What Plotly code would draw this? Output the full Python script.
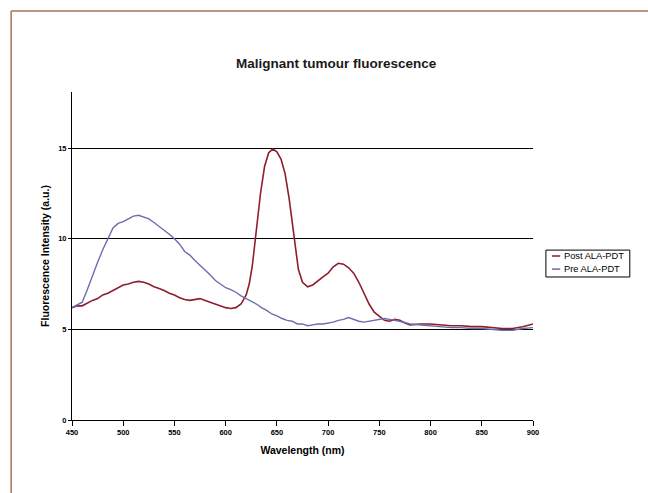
import plotly.graph_objects as go

title = "Malignant tumour fluorescence"
x_title = "Wavelength (nm)"
y_title = "Fluorescence Intensity (a.u.)"
x_ticks = [450, 500, 550, 600, 650, 700, 750, 800, 850, 900]
y_ticks = [0, 5, 10, 15]
series_names = ["Post ALA-PDT", "Pre ALA-PDT"]
series_colors = ["#8E1D2E", "#6B6DAE"]

pre_wl = [450, 455, 460, 465, 470, 475, 480, 485, 490, 495, 500, 505, 510, 515, 520, 525,
          530, 535, 540, 545, 550, 555, 560, 565, 570, 575, 580, 585, 590, 595, 600, 605,
          610, 615, 620, 625, 630, 635, 640, 645, 650, 655, 660, 665, 670, 675, 680, 685,
          690, 695, 700, 705, 710, 715, 720, 725, 730, 735, 740, 745, 750, 755, 760, 765,
          770, 780, 790, 800, 810, 820, 830, 840, 850, 860, 870, 880, 890, 900]
pre_val = [6.2, 6.35, 6.5, 7.2, 8.0, 8.7, 9.4, 10.05, 10.6, 10.85, 10.95, 11.1, 11.25, 11.3, 11.2, 11.1,
           10.9, 10.7, 10.5, 10.25, 10.0, 9.7, 9.3, 9.1, 8.8, 8.55, 8.3, 8.0, 7.7, 7.5, 7.3, 7.2,
           7.05, 6.85, 6.7, 6.55, 6.4, 6.2, 6.05, 5.85, 5.75, 5.6, 5.5, 5.45, 5.3, 5.3, 5.2, 5.25,
           5.3, 5.3, 5.35, 5.4, 5.5, 5.55, 5.65, 5.55, 5.45, 5.4, 5.45, 5.5, 5.55, 5.6, 5.55, 5.5,
           5.45, 5.3, 5.25, 5.2, 5.15, 5.1, 5.1, 5.05, 5.05, 5.0, 4.95, 4.95, 5.05, 5.1]

post_wl = [450, 455, 460, 465, 470, 475, 480, 485, 490, 495, 500, 505, 510, 515, 520, 525,
           530, 535, 540, 545, 550, 555, 560, 565, 570, 575, 580, 585, 590, 595, 600, 605,
           610, 615, 620, 623, 626, 630, 634, 638, 642, 646, 650, 654, 658, 662, 665, 668,
           671, 675, 680, 685, 690, 695, 700, 705, 710, 715, 720, 725, 730, 735, 740, 745,
           750, 755, 760, 765, 770, 775, 780, 790, 800, 810, 820, 830, 840, 850, 860, 870,
           880, 890, 900]
post_val = [6.2, 6.3, 6.3, 6.45, 6.6, 6.7, 6.9, 7.0, 7.15, 7.3, 7.45, 7.5, 7.6, 7.65, 7.6, 7.5,
            7.35, 7.25, 7.15, 7.0, 6.9, 6.75, 6.65, 6.6, 6.65, 6.7, 6.6, 6.5, 6.4, 6.3, 6.2, 6.15,
            6.2, 6.4, 6.9, 7.5, 8.5, 10.5, 12.5, 14.0, 14.75, 14.95, 14.8, 14.4, 13.6, 12.2, 10.8, 9.4,
            8.3, 7.6, 7.35, 7.45, 7.7, 7.9, 8.1, 8.45, 8.65, 8.6, 8.4, 8.1, 7.6, 7.0, 6.4, 5.95,
            5.7, 5.5, 5.45, 5.55, 5.5, 5.35, 5.25, 5.3, 5.3, 5.25, 5.2, 5.2, 5.15, 5.15, 5.1, 5.05,
            5.05, 5.15, 5.3]

FONT = "Liberation Sans, Arial, sans-serif"

fig = go.Figure()
fig.add_trace(go.Scatter(x=post_wl, y=post_val, mode="lines", name=series_names[0],
                         line=dict(color=series_colors[0], width=1.6), showlegend=False))
fig.add_trace(go.Scatter(x=pre_wl, y=pre_val, mode="lines", name=series_names[1],
                         line=dict(color=series_colors[1], width=1.4), showlegend=False))

fig.update_layout(
    width=648, height=493,
    margin=dict(l=72, r=115, t=92, b=73),
    paper_bgcolor="white", plot_bgcolor="white",
    font=dict(family=FONT, color="black"),
    title=dict(text=title, x=0.573, xref="paper", xanchor="center", y=0.872, yanchor="middle",
               font=dict(size=13.5, weight="bold", family=FONT, color="#1a1a1a")),
)
fig.update_xaxes(range=[450, 900], tickvals=x_ticks, ticktext=[str(v) for v in x_ticks],
                 showline=True, linecolor="black", linewidth=1, ticks="outside", ticklen=5,
                 tickcolor="black", showgrid=False, zeroline=False,
                 tickfont=dict(size=7.5, weight="bold", family=FONT),
                 title=dict(text=x_title, standoff=10, font=dict(size=10.5, weight="bold", family=FONT)))
fig.update_yaxes(range=[0, 18.1], tickvals=y_ticks, ticktext=[str(v) for v in y_ticks],
                 showline=True, linecolor="black", linewidth=1, ticks="outside", ticklen=3,
                 tickcolor="black", showgrid=True, gridcolor="black", gridwidth=1, zeroline=False,
                 tickfont=dict(size=7.5, weight="bold", family=FONT),
                 title=dict(text=y_title, standoff=6, font=dict(size=10.5, weight="bold", family=FONT)))

# legend (drawn as box, sample lines and labels)
fig.add_shape(type="rect", xref="paper", yref="paper", x0=1.028, x1=1.210, y0=0.436, y1=0.518,
              line=dict(color="black", width=1), fillcolor="white")
for i, (nm, col) in enumerate(zip(series_names, series_colors)):
    yy = 0.500 - i * 0.040
    fig.add_shape(type="line", xref="paper", yref="paper", x0=1.041, x1=1.059, y0=yy, y1=yy,
                  line=dict(color=col, width=1.5))
    fig.add_annotation(xref="paper", yref="paper", x=1.062, y=yy, text=nm, showarrow=False,
                       xanchor="left", yanchor="middle", font=dict(size=9.3, family=FONT, color="black"))

# scanned page frame (left and top edges)
fig.add_shape(type="line", xref="paper", yref="paper", x0=-0.132, x1=-0.132, y0=-0.25, y1=1.247,
              line=dict(color="#A8735A", width=1.5))
fig.add_shape(type="line", xref="paper", yref="paper", x0=-0.132, x1=1.26, y0=1.247, y1=1.247,
              line=dict(color="#A8735A", width=1.5))

fig.write_html("out.html", config={"displayModeBar": False},
               post_script="document.body.style.margin='0px';")
